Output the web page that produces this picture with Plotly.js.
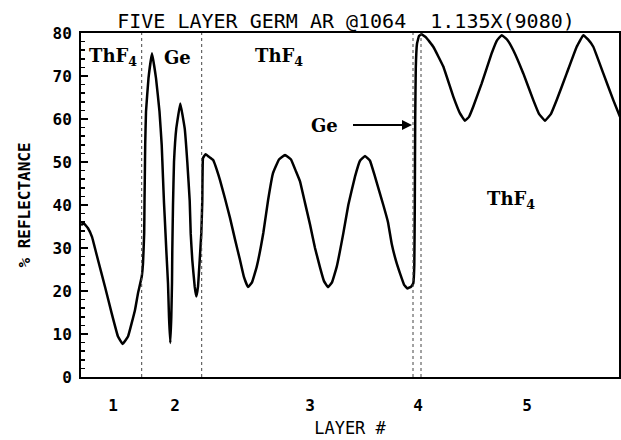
<!DOCTYPE html>
<html>
<head>
<meta charset="utf-8">
<script src="https://cdn.plot.ly/plotly-3.0.1.min.js"></script>
<style>
html,body{margin:0;padding:0;background:#fff;}
#chart{width:621px;height:440px;}
</style>
</head>
<body>
<div id="chart"></div>
<script>
// Thickness position along the stack (arbitrary units) and % reflectance
const thickness = [
  0, 3, 7, 11, 17, 24, 30.7, 37, 41.7, 47, 54, 57, 60.7, 62, 63.2,
  63.5, 63.8, 64.2, 65, 67.5, 71, 75, 78.5, 80.7, 82, 83, 83.7, 85.3, 87, 88, 89.3,
  90.3, 91, 91.3, 92, 93, 95.3, 99.3, 103.7, 106.3, 108.7, 109.7, 111.3, 113.7, 115.3,
  117, 118.7, 120.3, 121.3, 122, 124.5, 128, 132, 139, 144, 149, 154, 159, 163, 167,
  171, 175.7, 182.3, 187, 192, 198, 204, 210, 215, 219, 224, 229, 234, 239, 243, 247,
  251, 255.7, 262.3, 267.3, 274, 279, 284, 289, 294, 302.3, 307, 310.7, 315, 319, 323, 326.3,
  330, 332.3, 333.3, 333.8, 334.2, 334.8, 336, 338, 340.7, 345, 352.3, 362.3, 372.3, 379, 384,
  388, 392.3, 400.7, 410.7, 416, 420.7, 426, 432.3, 442.3, 452.3, 458, 464, 470, 475.7,
  485.7, 495.7, 502.3, 507, 512.3, 522.3, 532.3, 539
];
const reflectance = [
  35.4, 35.7, 34.6, 32.6, 27.2, 21.0, 14.8, 9.4, 7.7, 9.4, 15.6, 19.5, 23.3, 26.4, 33.5,
  40.5, 46.3, 54, 61.7, 69.5, 75.3, 69.5, 61.7, 54, 46.3, 40.5, 37.3, 29.5, 21.8, 14, 7.9,
  14, 21.8, 29.5, 40, 50, 57.8, 63.6, 57.8, 50, 41, 33.4, 27.2, 21, 18.7,
  21, 27.2, 33.4, 41, 50.9, 51.8, 51.2, 50.5, 45.8, 41.5, 37, 32, 27.2, 23.2, 20.9,
  22, 25.6, 33.5, 41, 47.4, 50.6, 51.6, 50.6, 47.8, 45.5, 40.5, 35.5, 30, 25.5, 22.3, 20.9,
  22, 25.6, 33.4, 40, 46.6, 50.3, 51.4, 50.3, 46.6, 40, 36, 31, 27, 24.1, 21.5, 20.6,
  21, 21.8, 26, 40, 60, 72, 77.5, 79.3, 79.7, 79, 76.8, 72.2, 65.2, 61.3, 59.6,
  60.5, 62.9, 68.3, 75.3, 78.3, 79.5, 78.5, 76, 70.6, 64.4, 61.2, 59.6, 61.2, 64.4,
  70.6, 76.8, 79.5, 78.5, 76.8, 70.6, 64.4, 60.5
];
// Layer boundaries (dotted lines)
const boundaries = [60.7, 120.7, 332, 340];
// Layer number ticks
const layerTickPos = [32, 94, 229, 337, 446];
const layerTickText = ['1', '2', '3', '4', '5'];
// Material labels
const materialText = ['ThF<sub>4</sub>', 'Ge', 'ThF<sub>4</sub>', 'ThF<sub>4</sub>'];
const materialX = [32, 96.5, 198, 430];
const materialY = [74.4, 74.4, 74.4, 41.2];

const mono = 'DejaVu Sans Mono, monospace';
const serif = 'DejaVu Serif, serif';

const shapes = boundaries.map(b => ({
  type: 'line', xref: 'x', yref: 'paper', x0: b, x1: b, y0: 0, y1: 1,
  line: {color: '#444', width: 1, dash: 'dot'}
}));

const labelFont = {family: serif, size: 18, color: '#000', weight: 'bold'};
const annotations = materialText.map((t, i) => ({
  text: t, x: materialX[i], y: materialY[i], xref: 'x', yref: 'y',
  showarrow: false, font: labelFont
}));
annotations.push({
  text: 'Ge', x: 331, y: 58.6, ax: 243, ay: 58.6, xref: 'x', yref: 'y', axref: 'x', ayref: 'y',
  showarrow: true, arrowhead: 2, arrowsize: 1, arrowwidth: 2, arrowcolor: '#000',
  standoff: 0, startstandoff: 14, font: labelFont
});

const trace = {
  x: thickness, y: reflectance, type: 'scatter', mode: 'lines',
  line: {color: '#000', width: 2.5, shape: 'spline', smoothing: 0.25},
  hoverinfo: 'x+y', showlegend: false
};

const layout = {
  width: 621, height: 440,
  margin: {l: 81, r: 2, t: 33, b: 63},
  paper_bgcolor: '#fff', plot_bgcolor: '#fff',
  title: {
    text: 'FIVE LAYER GERM AR @1064  1.135X(9080)',
    font: {family: mono, size: 20, color: '#000'},
    x: 346 / 621, xanchor: 'center', y: 1 - 21 / 440, yanchor: 'middle'
  },
  xaxis: {
    range: [0, 538], showgrid: false, zeroline: false,
    showline: true, linecolor: '#000', linewidth: 2, mirror: true,
    tickmode: 'array', tickvals: layerTickPos, ticktext: layerTickText,
    ticks: 'outside', ticklen: 13, tickcolor: 'rgba(0,0,0,0)',
    tickfont: {family: mono, size: 16, color: '#000', weight: 'bold'},
    title: {text: 'LAYER #', font: {family: mono, size: 17, color: '#000'}, standoff: 8}
  },
  yaxis: {
    range: [0, 80], showgrid: false, zeroline: false,
    showline: true, linecolor: '#000', linewidth: 2, mirror: true,
    tickmode: 'linear', tick0: 0, dtick: 10,
    ticks: 'inside', ticklen: 7, tickwidth: 2, tickcolor: '#000',
    minor: {dtick: 2, ticks: 'inside', ticklen: 4, tickwidth: 1.5, tickcolor: '#000'},
    tickfont: {family: mono, size: 16, color: '#000', weight: 'bold'},
    ticklabelstandoff: 4,
    title: {text: '% REFLECTANCE', font: {family: mono, size: 16, color: '#000', weight: 'bold'}, standoff: 18}
  },
  shapes: shapes,
  annotations: annotations
};

Plotly.newPlot('chart', [trace], layout, {displayModeBar: false, staticPlot: true});
</script>
</body>
</html>
